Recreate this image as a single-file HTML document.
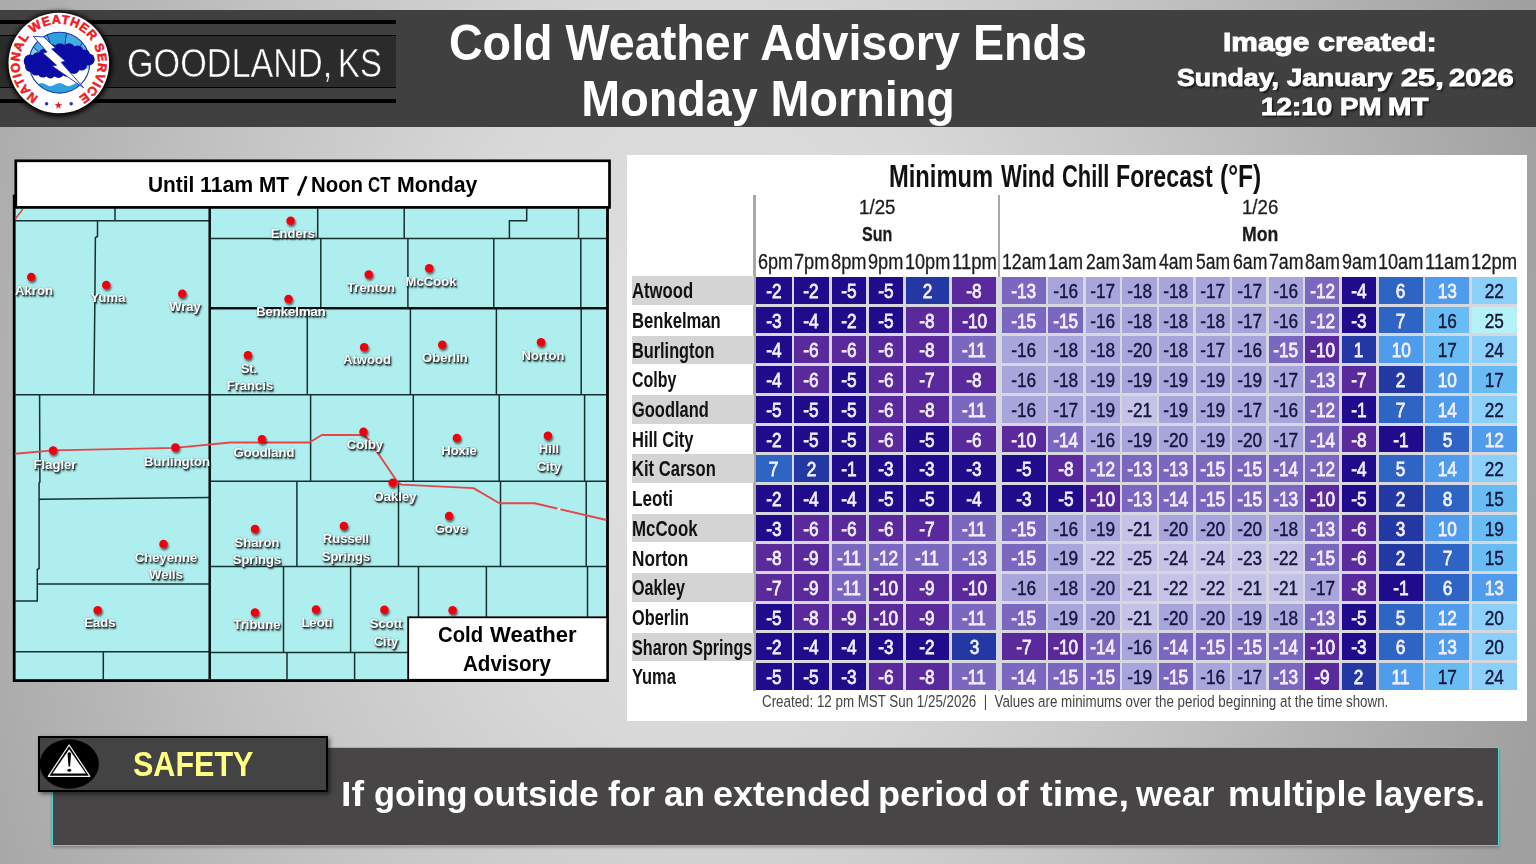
<!DOCTYPE html><html><head><meta charset="utf-8"><title>Cold Weather Advisory</title><style>
*{margin:0;padding:0;box-sizing:border-box}
html,body{width:1536px;height:864px;overflow:hidden}
body{position:relative;font-family:"Liberation Sans",sans-serif;background:#bdbdbd}
.abs{position:absolute}
#bg{position:absolute;left:0;top:0;width:1536px;height:864px;
 background:radial-gradient(ellipse 56% 140% at 46% 45%, #e2e2e2 0%, #d8d8d8 30%, #c2c2c2 60%, #a0a0a0 100%)}
.fw{position:absolute;white-space:nowrap;transform-origin:left center;font-weight:bold;line-height:1.2}
.fwr{font-weight:normal}
.bt{color:#fff}
.icw{color:#fff;-webkit-text-stroke:0.9px #fff;text-shadow:1.5px 1.5px 2px rgba(0,0,0,.75)}
.mtw{color:#000}
.ttw{color:#111}
.rlw{color:#111}
.hw{color:#1c1c1c;-webkit-text-stroke:0.3px #1c1c1c}
.lgw{color:#000}
.gdw{color:#fff;-webkit-text-stroke:0.55px #2b2b2b}
#hdr{position:absolute;left:0;top:10px;width:1536px;height:116.7px;background:#404040}
.bl{position:absolute;left:0;width:396.3px;background:#000}
#plate{position:absolute;left:0;top:35px;width:396.3px;height:52.5px;background:#2b2b2b}
#gld{position:absolute;left:126.6px;top:40.6px;height:44px;line-height:44px;font-size:40px;color:#fff;white-space:nowrap;
 transform-origin:left center;transform:scaleX(0.8387);letter-spacing:0;-webkit-text-stroke:0.55px #2b2b2b}
#title{position:absolute;left:368px;top:15.5px;width:800px;text-align:center;color:#fff;font-weight:bold;font-size:46.7px;line-height:53.0px;white-space:nowrap;transform-origin:center top;transform:scaleY(1.05)}
.ic{position:absolute;left:1129px;width:400px;text-align:center;color:#fff;font-weight:bold;font-size:24px;line-height:28px;white-space:nowrap;
 -webkit-text-stroke:0.9px #fff;text-shadow:1.5px 1.5px 2px rgba(0,0,0,.75)}
.ic span{display:inline-block;transform-origin:center}
#mt{position:absolute;left:12px;top:172px;width:600px;text-align:center;font-weight:bold;font-size:20.4px;line-height:26px;color:#000;white-space:nowrap}
#mt span{display:inline-block;transform:scale(1.02,1.045)}
.ml{position:absolute;width:100px;height:18px;line-height:18px;text-align:center;color:#fff;font-weight:bold;font-size:12.5px;white-space:nowrap;transform:scaleX(1.045);
 text-shadow:1.2px 1.6px 1.8px rgba(30,40,40,.95),0.6px 0.9px 0.9px rgba(30,40,40,.85),0 0 2px rgba(30,40,40,.35)}
#lgd{position:absolute;left:408px;top:620px;width:199px;text-align:center;font-weight:bold;font-size:21.5px;line-height:28.6px;color:#000}
#panel{position:absolute;left:627px;top:154.6px;width:899.6px;height:566px;background:#fff}
#psh{position:absolute;left:630px;top:158px;width:901px;height:567px;background:#000;opacity:.35;filter:blur(3px)}
#tt{position:absolute;left:627px;top:159.2px;width:900px;height:34px;line-height:34px;text-align:center;font-weight:bold;font-size:28.6px;color:#111;white-space:nowrap;-webkit-text-stroke:0.35px #fff}
#tt span{display:inline-block;transform:scaleX(0.817);position:relative;left:-3px}
.vl{position:absolute;width:2.2px;background:#a8a8a8;top:194.5px;height:496.5px}
.dh{position:absolute;width:80px;text-align:center;font-size:18.4px;line-height:22px;color:#222;white-space:nowrap}
.dh span{display:inline-block;transform:scaleX(1.0)}
.hh{position:absolute;top:251.5px;width:60px;height:22px;line-height:22px;text-align:center;font-size:18.9px;color:#1c1c1c;white-space:nowrap}
.hh span{display:inline-block;transform:scaleX(0.96)}
.gridbg{position:absolute;background:#d7d7e0}
.band{position:absolute;left:631.6px;width:122px;height:28.7px;background:#d4d4d4}
.rl{position:absolute;left:632.6px;width:240px;height:30px;line-height:30px;font-weight:bold;font-size:21.5px;color:#111;white-space:nowrap}
.rl span{display:inline-block;transform-origin:left center;transform:scaleX(0.765)}
.c{position:absolute;height:26.8px;line-height:28.6px;text-align:center;font-size:20.3px;white-space:nowrap}
.c span{display:inline-block;transform:scaleX(0.85)}
.c.w{color:#f4efff;-webkit-text-stroke:0.8px #f4efff}
.c.d{color:#14143a;-webkit-text-stroke:0.4px #14143a}
#ft{position:absolute;left:762.3px;top:692.8px;height:18px;line-height:18px;font-size:16.7px;color:#444;white-space:nowrap}
#ft span{display:inline-block;transform-origin:left center;transform:scaleX(0.80)}
#bar{position:absolute;left:51.8px;top:747.4px;width:1447.5px;height:99px;background:#474545;border:1.8px solid #4ad6d4;box-shadow:0 1.5px 3px rgba(0,0,0,.28)}
#bart{position:absolute;left:340.2px;top:772px;height:44px;line-height:44px;font-weight:bold;font-size:34.3px;color:#fff;white-space:nowrap}
#bart span{display:inline-block;transform-origin:left center;transform:scale(1.03,1.02)}
#sf{position:absolute;left:37.6px;top:736.2px;width:290.8px;height:55.4px;background:#434343;border:2.5px solid #000;box-shadow:2px 2px 4px rgba(0,0,0,.5)}
#sft{position:absolute;left:133.3px;top:741px;height:44px;line-height:44px;font-weight:bold;font-size:34px;color:#ffff84;white-space:nowrap}
#sft span{display:inline-block;transform-origin:left center;transform:scale(0.898,1.055)}
</style></head><body>
<div id="bg"></div>
<div id="hdr"></div>
<div id="plate"></div>
<div class="bl" style="top:20.0px;height:3.6px"></div>
<div class="bl" style="top:34.5px;height:1.6px"></div>
<div class="bl" style="top:86.7px;height:1.6px"></div>
<div class="bl" style="top:99.0px;height:3.6px"></div>
<span class="fw gdw fwr" style="left:127.19px;top:38.80px;font-size:40px;transform:scaleX(0.8546);">GOODLAND,</span>
<span class="fw gdw fwr" style="left:338.47px;top:38.80px;font-size:40px;transform:scaleX(0.8216);">KS</span>
<svg class="abs" style="left:0;top:0" width="240" height="135" viewBox="0 0 240 135">
<defs><filter id="lg" x="-30%" y="-30%" width="160%" height="160%"><feGaussianBlur stdDeviation="2.4"/></filter>
<path id="tp" d="M38.56,96.69 A39.3,39.3 0 1 1 79.04,96.69"/>
<clipPath id="ic"><circle cx="59.4" cy="62.7" r="30.4"/></clipPath></defs>
<circle cx="59.3" cy="64.0" r="52.5" fill="#000" filter="url(#lg)"/>
<circle cx="58.8" cy="63.0" r="50.3" fill="#fff"/>
<text font-family="Liberation Sans, sans-serif" font-weight="bold" font-size="12.5" fill="#ee1c25" stroke="#ee1c25" stroke-width="0.55" textLength="204.4" lengthAdjust="spacing"><textPath href="#tp" textLength="204.4" lengthAdjust="spacing">NATIONAL WEATHER SERVICE</textPath></text>
<g clip-path="url(#ic)">
<rect x="20" y="25" width="80" height="80" fill="#2f9fdd"/>
<path d="M60.9,72.7 L0.9,72.7 L17.0,31.8 Z" fill="#86cdf2"/>
<path d="M60.9,72.7 L17.0,31.8 L40.4,16.3 Z" fill="#46ace4"/>
<path d="M60.9,72.7 L40.4,16.3 L69.3,13.3 Z" fill="#2f9fdd"/>
<path d="M60.9,72.7 L69.3,13.3 L96.2,24.2 Z" fill="#46ace4"/>
<path d="M60.9,72.7 L96.2,24.2 L113.9,44.5 Z" fill="#5bb8ea"/>
<path d="M60.9,72.7 L113.9,44.5 L120.7,77.9 Z" fill="#86cdf2"/>
<line x1="60.9" y1="72.7" x2="17.0" y2="31.8" stroke="#123f9e" stroke-width="1.0"/>
<line x1="60.9" y1="72.7" x2="40.4" y2="16.3" stroke="#123f9e" stroke-width="1.0"/>
<line x1="60.9" y1="72.7" x2="69.3" y2="13.3" stroke="#123f9e" stroke-width="1.0"/>
<line x1="60.9" y1="72.7" x2="96.2" y2="24.2" stroke="#123f9e" stroke-width="1.0"/>
<line x1="60.9" y1="72.7" x2="113.9" y2="44.5" stroke="#123f9e" stroke-width="1.0"/>
<path d="M20,68.7 H100 V84.6 q-4.5,-3.2 -9,0 q-4.5,3.2 -9,0 q-4.5,-3.2 -9,0 q-4.5,3.2 -9,0 q-4.5,-3.2 -9,0 q-4.5,3.2 -9,0 q-4.5,-3.2 -9,0 q-4.5,3.2 -9,0 q-4.5,-3.2 -9,0 Z" fill="#fff"/>
</g>
<circle cx="59.4" cy="62.7" r="30.4" fill="none" stroke="#1a3cae" stroke-width="1.1"/>
<circle cx="30.3" cy="61" r="6.6" fill="#0c0ca4"/>
<circle cx="30.5" cy="66.5" r="5.4" fill="#0c0ca4"/>
<circle cx="36" cy="70" r="5.6" fill="#0c0ca4"/>
<circle cx="43" cy="72" r="5.6" fill="#0c0ca4"/>
<circle cx="50.5" cy="73" r="5.4" fill="#0c0ca4"/>
<circle cx="58.5" cy="72.5" r="5.4" fill="#0c0ca4"/>
<circle cx="66.5" cy="71.3" r="5.4" fill="#0c0ca4"/>
<circle cx="74" cy="68.5" r="5.4" fill="#0c0ca4"/>
<circle cx="81.5" cy="65" r="5.6" fill="#0c0ca4"/>
<circle cx="88.6" cy="59.5" r="6.1" fill="#0c0ca4"/>
<circle cx="84.5" cy="55" r="5.5" fill="#0c0ca4"/>
<circle cx="77.5" cy="51.5" r="6" fill="#0c0ca4"/>
<circle cx="69" cy="49.3" r="6" fill="#0c0ca4"/>
<circle cx="60" cy="48.8" r="5.6" fill="#0c0ca4"/>
<circle cx="51.5" cy="49.8" r="5.8" fill="#0c0ca4"/>
<circle cx="44.5" cy="54" r="5.6" fill="#0c0ca4"/>
<circle cx="37.5" cy="57.5" r="5.2" fill="#0c0ca4"/>
<circle cx="45" cy="62.5" r="8.5" fill="#0c0ca4"/>
<circle cx="57" cy="61" r="10.5" fill="#0c0ca4"/>
<circle cx="69" cy="60.5" r="10" fill="#0c0ca4"/>
<circle cx="79" cy="60" r="7.2" fill="#0c0ca4"/>
<circle cx="37" cy="63.5" r="6.4" fill="#0c0ca4"/>
<path d="M33.3,36.3 L43.6,36.9 L55.4,47.9 L51.7,49.0 L65.3,61.2 L61.1,62.3 L83.6,87.8 L52.2,66.1 L56.5,65.2 L42.9,52.9 L47.1,52.0 Z" fill="#fff" stroke="#1a2fae" stroke-width="0.9" stroke-linejoin="miter"/>
<circle cx="46.6" cy="103.7" r="1.75" fill="#2a35b5"/><circle cx="71.2" cy="103.7" r="1.75" fill="#2a35b5"/>
<polygon points="58.40,101.50 59.34,104.11 62.11,104.19 59.92,105.89 60.69,108.56 58.40,107.00 56.11,108.56 56.88,105.89 54.69,104.19 57.46,104.11" fill="#ee1c25"/>
</svg>
<div id="title">Cold Weather Advisory Ends<br>Monday Morning</div>
<span class="fw icw" style="left:1222.96px;top:28.55px;font-size:24px;transform:scale(1.2455,1.04);text-shadow:none;">Image</span>
<span class="fw icw" style="left:1317.58px;top:28.55px;font-size:24px;transform:scale(1.2716,1.04);text-shadow:none;">created:</span>
<span class="fw icw" style="left:1177.30px;top:64.28px;font-size:24px;transform:scaleX(1.1145);">Sunday,</span>
<span class="fw icw" style="left:1287.29px;top:64.28px;font-size:24px;transform:scaleX(1.1446);">January</span>
<span class="fw icw" style="left:1400.92px;top:64.28px;font-size:24px;transform:scaleX(1.2808);">25,</span>
<span class="fw icw" style="left:1449.28px;top:64.28px;font-size:24px;transform:scaleX(1.2142);">2026</span>
<span class="fw icw" style="left:1261.43px;top:93.18px;font-size:24px;transform:scaleX(1.1592);">12:10</span>
<span class="fw icw" style="left:1340.40px;top:93.18px;font-size:24px;transform:scaleX(1.1508);">PM</span>
<span class="fw icw" style="left:1388.18px;top:93.18px;font-size:24px;transform:scaleX(1.1679);">MT</span>
<svg class="abs" style="left:0;top:0" width="1536" height="864" viewBox="0 0 1536 864">
<defs><filter id="ds" x="-50%" y="-50%" width="200%" height="200%"><feGaussianBlur in="SourceAlpha" stdDeviation="1.1"/><feOffset dx="1.3" dy="1.6"/><feComponentTransfer><feFuncA type="linear" slope="0.6"/></feComponentTransfer><feMerge><feMergeNode/><feMergeNode in="SourceGraphic"/></feMerge></filter>
<filter id="ms" x="-5%" y="-5%" width="110%" height="110%"><feGaussianBlur stdDeviation="2.5"/></filter></defs>
<rect x="14.2" y="196" width="593.3" height="484.6" fill="#afeeee" stroke="#000" stroke-width="2.8"/>
<path d="M15.0,220.8 L209.5,220.8 M115.0,208.0 L115.0,220.8 M97.5,220.8 L97.5,236.5 L95.4,237.5 L94.8,308.0 L93.8,394.8 M15.0,394.8 L606.5,394.8 M39.6,394.8 L39.9,482.0 L39.1,483.0 L39.1,568.5 L37.3,569.5 L37.3,601.0 L15.0,601.0 M39.2,499.3 L209.5,497.4 M37.3,584.0 L209.5,584.0 M15.0,651.8 L209.5,651.8 M103.3,651.8 L103.3,679.0 M209.7,238.5 L606.5,238.5 M317.7,208.0 L317.7,238.5 M404.2,208.0 L404.2,238.5 M578.5,208.0 L578.5,238.5 M526.7,208.0 L526.7,220.8 L509.4,220.8 L509.4,238.5 M320.8,238.5 L320.8,308.3 M407.9,238.5 L407.9,308.3 M493.8,238.5 L493.8,308.3 M580.8,238.5 L580.8,308.3 M307.3,308.3 L307.3,394.8 M410.4,308.3 L410.4,394.8 M496.4,308.3 L496.4,394.8 M581.2,308.3 L581.2,394.8 M310.6,394.8 L310.6,481.2 M413.3,394.8 L413.3,481.2 M499.2,394.8 L499.2,481.2 M584.6,394.8 L584.6,481.2 M209.7,481.2 L606.5,481.2 M296.9,481.2 L296.9,566.4 M398.5,481.2 L398.5,566.4 M500.5,481.2 L500.5,566.4 M586.2,481.2 L586.2,566.4 M209.7,566.4 L606.5,566.4 M283.5,566.4 L283.5,652.4 M350.6,566.4 L350.6,652.4 M418.5,566.4 L418.5,652.4 M486.4,566.4 L486.4,652.4 M587.5,566.4 L587.5,652.4 M209.7,652.4 L606.5,652.4 M287.0,652.4 L287.0,679.0 M354.6,652.4 L354.6,679.0" fill="none" stroke="#16302f" stroke-width="1.5"/>
<path d="M209.7,208 L209.7,679 M209.7,308.3 L606.5,308.3" fill="none" stroke="#08100f" stroke-width="2.5"/>
<path d="M15.0,453.8 L53.1,450.4 L175.0,447.9 L230.2,442.5 L309.4,442.5 L321.9,435.0 L363.5,435.0 L369.0,440.0 L397.5,482.0 L401.2,484.6 L473.5,488.1 L499.4,503.3 L534.6,503.3 L606.4,520.0" fill="none" stroke="#e4474a" stroke-width="1.9" stroke-linejoin="round"/>
<path d="M15.5,218.75 L22.9,209" fill="none" stroke="#e2433f" stroke-width="1.4"/>
<path d="M557.4,508.6 L560.4,509.3" fill="none" stroke="#d4f2f2" stroke-width="2.4"/>
<g filter="url(#ds)">
<circle cx="31.25" cy="277" r="4.25" fill="#ee0010"/>
<circle cx="106.25" cy="285" r="4.25" fill="#ee0010"/>
<circle cx="182.3" cy="293.75" r="4.25" fill="#ee0010"/>
<circle cx="290.6" cy="220.8" r="4.25" fill="#ee0010"/>
<circle cx="288.5" cy="299" r="4.25" fill="#ee0010"/>
<circle cx="368.75" cy="274.4" r="4.25" fill="#ee0010"/>
<circle cx="429.2" cy="268.3" r="4.25" fill="#ee0010"/>
<circle cx="247.9" cy="355.2" r="4.25" fill="#ee0010"/>
<circle cx="364.2" cy="347.3" r="4.25" fill="#ee0010"/>
<circle cx="442.3" cy="344.8" r="4.25" fill="#ee0010"/>
<circle cx="541" cy="342.3" r="4.25" fill="#ee0010"/>
<circle cx="53.1" cy="450.4" r="4.25" fill="#ee0010"/>
<circle cx="175.4" cy="447.5" r="4.25" fill="#ee0010"/>
<circle cx="262" cy="439.2" r="4.25" fill="#ee0010"/>
<circle cx="363.5" cy="431.7" r="4.25" fill="#ee0010"/>
<circle cx="456.9" cy="437.9" r="4.25" fill="#ee0010"/>
<circle cx="547.9" cy="435.8" r="4.25" fill="#ee0010"/>
<circle cx="392.7" cy="482.8" r="4.25" fill="#ee0010"/>
<circle cx="449.1" cy="516" r="4.25" fill="#ee0010"/>
<circle cx="163.5" cy="544" r="4.25" fill="#ee0010"/>
<circle cx="255" cy="529.1" r="4.25" fill="#ee0010"/>
<circle cx="343.9" cy="525.9" r="4.25" fill="#ee0010"/>
<circle cx="97.7" cy="610.3" r="4.25" fill="#ee0010"/>
<circle cx="255" cy="612.4" r="4.25" fill="#ee0010"/>
<circle cx="316" cy="609.5" r="4.25" fill="#ee0010"/>
<circle cx="384.4" cy="609.8" r="4.25" fill="#ee0010"/>
<circle cx="452.6" cy="610.3" r="4.25" fill="#ee0010"/>
</g>
<rect x="408.2" y="617.3" width="199" height="62.5" fill="#fff" stroke="#000" stroke-width="1.8"/>
<rect x="15.8" y="160.8" width="593.7" height="46.6" fill="#fff" stroke="#000" stroke-width="2.7"/>
<path d="M298.1,195.6 L306.3,176.2" stroke="#000" stroke-width="2.7" fill="none"/>
</svg>
<div class="ml" style="left:-16.2px;top:282.0px">Akron</div>
<div class="ml" style="left:58.3px;top:289.3px">Yuma</div>
<div class="ml" style="left:135.0px;top:298.3px">Wray</div>
<div class="ml" style="left:242.7px;top:225.4px">Enders</div>
<div class="ml" style="left:240.7px;top:303.1px">Benkelman</div>
<div class="ml" style="left:321.4px;top:278.5px">Trenton</div>
<div class="ml" style="left:380.7px;top:272.7px">McCook</div>
<div class="ml" style="left:199.4px;top:359.8px">St.</div>
<div class="ml" style="left:200.0px;top:376.8px">Francis</div>
<div class="ml" style="left:316.7px;top:351.4px">Atwood</div>
<div class="ml" style="left:394.8px;top:348.9px">Oberlin</div>
<div class="ml" style="left:492.7px;top:346.6px">Norton</div>
<div class="ml" style="left:5.2px;top:455.6px">Flagler</div>
<div class="ml" style="left:127.0px;top:452.5px">Burlington</div>
<div class="ml" style="left:213.5px;top:443.5px">Goodland</div>
<div class="ml" style="left:315.2px;top:435.8px">Colby</div>
<div class="ml" style="left:408.8px;top:442.0px">Hoxie</div>
<div class="ml" style="left:499.4px;top:440.0px">Hill</div>
<div class="ml" style="left:499.4px;top:457.7px">City</div>
<div class="ml" style="left:344.5px;top:487.6px">Oakley</div>
<div class="ml" style="left:401.2px;top:520.4px">Gove</div>
<div class="ml" style="left:115.6px;top:548.9px">Cheyenne</div>
<div class="ml" style="left:115.6px;top:565.6px">Wells</div>
<div class="ml" style="left:207.0px;top:533.7px">Sharon</div>
<div class="ml" style="left:207.0px;top:551.0px">Springs</div>
<div class="ml" style="left:295.8px;top:530.2px">Russell</div>
<div class="ml" style="left:295.8px;top:547.5px">Springs</div>
<div class="ml" style="left:49.8px;top:614.0px">Eads</div>
<div class="ml" style="left:207.0px;top:616.2px">Tribune</div>
<div class="ml" style="left:267.3px;top:614.0px">Leoti</div>
<div class="ml" style="left:335.7px;top:614.9px">Scott</div>
<div class="ml" style="left:335.7px;top:632.7px">City</div>
<span class="fw mtw" style="left:147.85px;top:172.97px;font-size:20.4px;transform:scale(1.0248,1.045);">Until</span>
<span class="fw mtw" style="left:200.22px;top:172.97px;font-size:20.4px;transform:scale(1.0441,1.045);">11am</span>
<span class="fw mtw" style="left:259.45px;top:172.97px;font-size:20.4px;transform:scale(1.0162,1.045);">MT</span>
<span class="fw mtw" style="left:311.38px;top:172.97px;font-size:20.4px;transform:scale(0.9985,1.045);">Noon</span>
<span class="fw mtw" style="left:368.32px;top:172.97px;font-size:20.4px;transform:scale(0.8272,1.045);">CT</span>
<span class="fw mtw" style="left:396.52px;top:172.97px;font-size:20.4px;transform:scale(1.0439,1.045);">Monday</span>
<span class="fw lgw" style="left:438.19px;top:622.70px;font-size:21.5px;transform:scale(0.9434,1.034);">Cold</span>
<span class="fw lgw" style="left:489.50px;top:622.70px;font-size:21.5px;transform:scale(1.0265,1.034);">Weather</span>
<span class="fw lgw" style="left:463.19px;top:651.80px;font-size:21.5px;transform:scale(0.9565,1.034);">Advisory</span>
<div id="panel"></div>
<span class="fw ttw" style="left:888.96px;top:158.26px;font-size:31.1px;transform:scaleX(0.7630);">Minimum</span>
<span class="fw ttw" style="left:1000.70px;top:158.26px;font-size:31.1px;transform:scaleX(0.7123);">Wind</span>
<span class="fw ttw" style="left:1061.92px;top:158.26px;font-size:31.1px;transform:scaleX(0.7040);">Chill</span>
<span class="fw ttw" style="left:1115.99px;top:158.26px;font-size:31.1px;transform:scaleX(0.7461);">Forecast</span>
<span class="fw ttw" style="left:1220.27px;top:158.26px;font-size:31.1px;transform:scaleX(0.7896);">(°F)</span>
<div class="vl" style="left:753.4px"></div><div class="vl" style="left:998.3px"></div>
<span class="fw hw fwr" style="left:858.89px;top:194.67px;font-size:20.0px;transform:scaleX(0.9372);">1/25</span>
<span class="fw hw fwr" style="left:1242.10px;top:194.67px;font-size:20.0px;transform:scaleX(0.9317);">1/26</span>
<span class="fw hw" style="left:861.92px;top:221.71px;font-size:20.8px;transform:scaleX(0.7719);">Sun</span>
<span class="fw hw" style="left:1242.35px;top:221.71px;font-size:20.8px;transform:scaleX(0.8494);">Mon</span>
<div class="gridbg" style="left:755.9px;top:277.0px;width:760.7px;height:412.9px"></div>
<div class="band" style="top:276.1px"></div>
<span class="fw rlw" style="left:632.28px;top:279.25px;font-size:21.5px;transform:scaleX(0.7754);">Atwood</span>
<div class="c w" style="left:755.9px;top:277.0px;width:35.7px;background:#1f0b8c"><span>-2</span></div>
<div class="c w" style="left:794.3px;top:277.0px;width:34.4px;background:#1f0b8c"><span>-2</span></div>
<div class="c w" style="left:831.6px;top:277.0px;width:34.3px;background:#1f0b8c"><span>-5</span></div>
<div class="c w" style="left:868.5px;top:277.0px;width:34.7px;background:#1f0b8c"><span>-5</span></div>
<div class="c w" style="left:905.7px;top:277.0px;width:43.2px;background:#2438a4"><span>2</span></div>
<div class="c w" style="left:952.3px;top:277.0px;width:44.0px;background:#5a2a9c"><span>-8</span></div>
<div class="c w" style="left:1001.5px;top:277.0px;width:44.4px;background:#7a68c0"><span>-13</span></div>
<div class="c d" style="left:1048.4px;top:277.0px;width:34.7px;background:#a8a4dc"><span>-16</span></div>
<div class="c d" style="left:1085.6px;top:277.0px;width:34.4px;background:#a8a4dc"><span>-17</span></div>
<div class="c d" style="left:1122.4px;top:277.0px;width:34.3px;background:#a8a4dc"><span>-18</span></div>
<div class="c d" style="left:1158.9px;top:277.0px;width:34.2px;background:#a8a4dc"><span>-18</span></div>
<div class="c d" style="left:1195.7px;top:277.0px;width:34.3px;background:#a8a4dc"><span>-17</span></div>
<div class="c d" style="left:1232.3px;top:277.0px;width:34.0px;background:#a8a4dc"><span>-17</span></div>
<div class="c d" style="left:1268.8px;top:277.0px;width:33.9px;background:#a8a4dc"><span>-16</span></div>
<div class="c w" style="left:1305.4px;top:277.0px;width:33.9px;background:#7a68c0"><span>-12</span></div>
<div class="c w" style="left:1341.8px;top:277.0px;width:34.5px;background:#1f0b8c"><span>-4</span></div>
<div class="c w" style="left:1379.0px;top:277.0px;width:43.6px;background:#2e64c4"><span>6</span></div>
<div class="c w" style="left:1425.3px;top:277.0px;width:44.2px;background:#4f9cec"><span>13</span></div>
<div class="c d" style="left:1472.0px;top:277.0px;width:44.6px;background:#8ad0f8"><span>22</span></div>
<span class="fw rlw" style="left:631.62px;top:308.95px;font-size:21.5px;transform:scaleX(0.7731);">Benkelman</span>
<div class="c w" style="left:755.9px;top:306.7px;width:35.7px;background:#1f0b8c"><span>-3</span></div>
<div class="c w" style="left:794.3px;top:306.7px;width:34.4px;background:#1f0b8c"><span>-4</span></div>
<div class="c w" style="left:831.6px;top:306.7px;width:34.3px;background:#1f0b8c"><span>-2</span></div>
<div class="c w" style="left:868.5px;top:306.7px;width:34.7px;background:#1f0b8c"><span>-5</span></div>
<div class="c w" style="left:905.7px;top:306.7px;width:43.2px;background:#5a2a9c"><span>-8</span></div>
<div class="c w" style="left:952.3px;top:306.7px;width:44.0px;background:#5a2a9c"><span>-10</span></div>
<div class="c w" style="left:1001.5px;top:306.7px;width:44.4px;background:#7a68c0"><span>-15</span></div>
<div class="c w" style="left:1048.4px;top:306.7px;width:34.7px;background:#7a68c0"><span>-15</span></div>
<div class="c d" style="left:1085.6px;top:306.7px;width:34.4px;background:#a8a4dc"><span>-16</span></div>
<div class="c d" style="left:1122.4px;top:306.7px;width:34.3px;background:#a8a4dc"><span>-18</span></div>
<div class="c d" style="left:1158.9px;top:306.7px;width:34.2px;background:#a8a4dc"><span>-18</span></div>
<div class="c d" style="left:1195.7px;top:306.7px;width:34.3px;background:#a8a4dc"><span>-18</span></div>
<div class="c d" style="left:1232.3px;top:306.7px;width:34.0px;background:#a8a4dc"><span>-17</span></div>
<div class="c d" style="left:1268.8px;top:306.7px;width:33.9px;background:#a8a4dc"><span>-16</span></div>
<div class="c w" style="left:1305.4px;top:306.7px;width:33.9px;background:#7a68c0"><span>-12</span></div>
<div class="c w" style="left:1341.8px;top:306.7px;width:34.5px;background:#1f0b8c"><span>-3</span></div>
<div class="c w" style="left:1379.0px;top:306.7px;width:43.6px;background:#2e64c4"><span>7</span></div>
<div class="c d" style="left:1425.3px;top:306.7px;width:44.2px;background:#68bcf4"><span>16</span></div>
<div class="c d" style="left:1472.0px;top:306.7px;width:44.6px;background:#b3f3f8"><span>25</span></div>
<div class="band" style="top:335.5px"></div>
<span class="fw rlw" style="left:631.64px;top:338.65px;font-size:21.5px;transform:scaleX(0.7585);">Burlington</span>
<div class="c w" style="left:755.9px;top:336.4px;width:35.7px;background:#1f0b8c"><span>-4</span></div>
<div class="c w" style="left:794.3px;top:336.4px;width:34.4px;background:#5a2a9c"><span>-6</span></div>
<div class="c w" style="left:831.6px;top:336.4px;width:34.3px;background:#5a2a9c"><span>-6</span></div>
<div class="c w" style="left:868.5px;top:336.4px;width:34.7px;background:#5a2a9c"><span>-6</span></div>
<div class="c w" style="left:905.7px;top:336.4px;width:43.2px;background:#5a2a9c"><span>-8</span></div>
<div class="c w" style="left:952.3px;top:336.4px;width:44.0px;background:#7a68c0"><span>-11</span></div>
<div class="c d" style="left:1001.5px;top:336.4px;width:44.4px;background:#a8a4dc"><span>-16</span></div>
<div class="c d" style="left:1048.4px;top:336.4px;width:34.7px;background:#a8a4dc"><span>-18</span></div>
<div class="c d" style="left:1085.6px;top:336.4px;width:34.4px;background:#a8a4dc"><span>-18</span></div>
<div class="c d" style="left:1122.4px;top:336.4px;width:34.3px;background:#a8a4dc"><span>-20</span></div>
<div class="c d" style="left:1158.9px;top:336.4px;width:34.2px;background:#a8a4dc"><span>-18</span></div>
<div class="c d" style="left:1195.7px;top:336.4px;width:34.3px;background:#a8a4dc"><span>-17</span></div>
<div class="c d" style="left:1232.3px;top:336.4px;width:34.0px;background:#a8a4dc"><span>-16</span></div>
<div class="c w" style="left:1268.8px;top:336.4px;width:33.9px;background:#7a68c0"><span>-15</span></div>
<div class="c w" style="left:1305.4px;top:336.4px;width:33.9px;background:#5a2a9c"><span>-10</span></div>
<div class="c w" style="left:1341.8px;top:336.4px;width:34.5px;background:#2438a4"><span>1</span></div>
<div class="c w" style="left:1379.0px;top:336.4px;width:43.6px;background:#4f9cec"><span>10</span></div>
<div class="c d" style="left:1425.3px;top:336.4px;width:44.2px;background:#68bcf4"><span>17</span></div>
<div class="c d" style="left:1472.0px;top:336.4px;width:44.6px;background:#8ad0f8"><span>24</span></div>
<span class="fw rlw" style="left:632.06px;top:368.35px;font-size:21.5px;transform:scaleX(0.7428);">Colby</span>
<div class="c w" style="left:755.9px;top:366.1px;width:35.7px;background:#1f0b8c"><span>-4</span></div>
<div class="c w" style="left:794.3px;top:366.1px;width:34.4px;background:#5a2a9c"><span>-6</span></div>
<div class="c w" style="left:831.6px;top:366.1px;width:34.3px;background:#1f0b8c"><span>-5</span></div>
<div class="c w" style="left:868.5px;top:366.1px;width:34.7px;background:#5a2a9c"><span>-6</span></div>
<div class="c w" style="left:905.7px;top:366.1px;width:43.2px;background:#5a2a9c"><span>-7</span></div>
<div class="c w" style="left:952.3px;top:366.1px;width:44.0px;background:#5a2a9c"><span>-8</span></div>
<div class="c d" style="left:1001.5px;top:366.1px;width:44.4px;background:#a8a4dc"><span>-16</span></div>
<div class="c d" style="left:1048.4px;top:366.1px;width:34.7px;background:#a8a4dc"><span>-18</span></div>
<div class="c d" style="left:1085.6px;top:366.1px;width:34.4px;background:#a8a4dc"><span>-19</span></div>
<div class="c d" style="left:1122.4px;top:366.1px;width:34.3px;background:#a8a4dc"><span>-19</span></div>
<div class="c d" style="left:1158.9px;top:366.1px;width:34.2px;background:#a8a4dc"><span>-19</span></div>
<div class="c d" style="left:1195.7px;top:366.1px;width:34.3px;background:#a8a4dc"><span>-19</span></div>
<div class="c d" style="left:1232.3px;top:366.1px;width:34.0px;background:#a8a4dc"><span>-19</span></div>
<div class="c d" style="left:1268.8px;top:366.1px;width:33.9px;background:#a8a4dc"><span>-17</span></div>
<div class="c w" style="left:1305.4px;top:366.1px;width:33.9px;background:#7a68c0"><span>-13</span></div>
<div class="c w" style="left:1341.8px;top:366.1px;width:34.5px;background:#5a2a9c"><span>-7</span></div>
<div class="c w" style="left:1379.0px;top:366.1px;width:43.6px;background:#2438a4"><span>2</span></div>
<div class="c w" style="left:1425.3px;top:366.1px;width:44.2px;background:#4f9cec"><span>10</span></div>
<div class="c d" style="left:1472.0px;top:366.1px;width:44.6px;background:#68bcf4"><span>17</span></div>
<div class="band" style="top:394.9px"></div>
<span class="fw rlw" style="left:632.04px;top:398.05px;font-size:21.5px;transform:scaleX(0.7650);">Goodland</span>
<div class="c w" style="left:755.9px;top:395.8px;width:35.7px;background:#1f0b8c"><span>-5</span></div>
<div class="c w" style="left:794.3px;top:395.8px;width:34.4px;background:#1f0b8c"><span>-5</span></div>
<div class="c w" style="left:831.6px;top:395.8px;width:34.3px;background:#1f0b8c"><span>-5</span></div>
<div class="c w" style="left:868.5px;top:395.8px;width:34.7px;background:#5a2a9c"><span>-6</span></div>
<div class="c w" style="left:905.7px;top:395.8px;width:43.2px;background:#5a2a9c"><span>-8</span></div>
<div class="c w" style="left:952.3px;top:395.8px;width:44.0px;background:#7a68c0"><span>-11</span></div>
<div class="c d" style="left:1001.5px;top:395.8px;width:44.4px;background:#a8a4dc"><span>-16</span></div>
<div class="c d" style="left:1048.4px;top:395.8px;width:34.7px;background:#a8a4dc"><span>-17</span></div>
<div class="c d" style="left:1085.6px;top:395.8px;width:34.4px;background:#a8a4dc"><span>-19</span></div>
<div class="c d" style="left:1122.4px;top:395.8px;width:34.3px;background:#c4c2e6"><span>-21</span></div>
<div class="c d" style="left:1158.9px;top:395.8px;width:34.2px;background:#a8a4dc"><span>-19</span></div>
<div class="c d" style="left:1195.7px;top:395.8px;width:34.3px;background:#a8a4dc"><span>-19</span></div>
<div class="c d" style="left:1232.3px;top:395.8px;width:34.0px;background:#a8a4dc"><span>-17</span></div>
<div class="c d" style="left:1268.8px;top:395.8px;width:33.9px;background:#a8a4dc"><span>-16</span></div>
<div class="c w" style="left:1305.4px;top:395.8px;width:33.9px;background:#7a68c0"><span>-12</span></div>
<div class="c w" style="left:1341.8px;top:395.8px;width:34.5px;background:#1f0b8c"><span>-1</span></div>
<div class="c w" style="left:1379.0px;top:395.8px;width:43.6px;background:#2e64c4"><span>7</span></div>
<div class="c w" style="left:1425.3px;top:395.8px;width:44.2px;background:#4f9cec"><span>14</span></div>
<div class="c d" style="left:1472.0px;top:395.8px;width:44.6px;background:#8ad0f8"><span>22</span></div>
<span class="fw rlw" style="left:631.63px;top:427.75px;font-size:21.5px;transform:scaleX(0.7684);">Hill City</span>
<div class="c w" style="left:755.9px;top:425.5px;width:35.7px;background:#1f0b8c"><span>-2</span></div>
<div class="c w" style="left:794.3px;top:425.5px;width:34.4px;background:#1f0b8c"><span>-5</span></div>
<div class="c w" style="left:831.6px;top:425.5px;width:34.3px;background:#1f0b8c"><span>-5</span></div>
<div class="c w" style="left:868.5px;top:425.5px;width:34.7px;background:#5a2a9c"><span>-6</span></div>
<div class="c w" style="left:905.7px;top:425.5px;width:43.2px;background:#1f0b8c"><span>-5</span></div>
<div class="c w" style="left:952.3px;top:425.5px;width:44.0px;background:#5a2a9c"><span>-6</span></div>
<div class="c w" style="left:1001.5px;top:425.5px;width:44.4px;background:#5a2a9c"><span>-10</span></div>
<div class="c w" style="left:1048.4px;top:425.5px;width:34.7px;background:#7a68c0"><span>-14</span></div>
<div class="c d" style="left:1085.6px;top:425.5px;width:34.4px;background:#a8a4dc"><span>-16</span></div>
<div class="c d" style="left:1122.4px;top:425.5px;width:34.3px;background:#a8a4dc"><span>-19</span></div>
<div class="c d" style="left:1158.9px;top:425.5px;width:34.2px;background:#a8a4dc"><span>-20</span></div>
<div class="c d" style="left:1195.7px;top:425.5px;width:34.3px;background:#a8a4dc"><span>-19</span></div>
<div class="c d" style="left:1232.3px;top:425.5px;width:34.0px;background:#a8a4dc"><span>-20</span></div>
<div class="c d" style="left:1268.8px;top:425.5px;width:33.9px;background:#a8a4dc"><span>-17</span></div>
<div class="c w" style="left:1305.4px;top:425.5px;width:33.9px;background:#7a68c0"><span>-14</span></div>
<div class="c w" style="left:1341.8px;top:425.5px;width:34.5px;background:#5a2a9c"><span>-8</span></div>
<div class="c w" style="left:1379.0px;top:425.5px;width:43.6px;background:#1f0b8c"><span>-1</span></div>
<div class="c w" style="left:1425.3px;top:425.5px;width:44.2px;background:#2e64c4"><span>5</span></div>
<div class="c w" style="left:1472.0px;top:425.5px;width:44.6px;background:#4f9cec"><span>12</span></div>
<div class="band" style="top:454.3px"></div>
<span class="fw rlw" style="left:631.62px;top:457.45px;font-size:21.5px;transform:scaleX(0.7708);">Kit Carson</span>
<div class="c w" style="left:755.9px;top:455.2px;width:35.7px;background:#2e64c4"><span>7</span></div>
<div class="c w" style="left:794.3px;top:455.2px;width:34.4px;background:#2438a4"><span>2</span></div>
<div class="c w" style="left:831.6px;top:455.2px;width:34.3px;background:#1f0b8c"><span>-1</span></div>
<div class="c w" style="left:868.5px;top:455.2px;width:34.7px;background:#1f0b8c"><span>-3</span></div>
<div class="c w" style="left:905.7px;top:455.2px;width:43.2px;background:#1f0b8c"><span>-3</span></div>
<div class="c w" style="left:952.3px;top:455.2px;width:44.0px;background:#1f0b8c"><span>-3</span></div>
<div class="c w" style="left:1001.5px;top:455.2px;width:44.4px;background:#1f0b8c"><span>-5</span></div>
<div class="c w" style="left:1048.4px;top:455.2px;width:34.7px;background:#5a2a9c"><span>-8</span></div>
<div class="c w" style="left:1085.6px;top:455.2px;width:34.4px;background:#7a68c0"><span>-12</span></div>
<div class="c w" style="left:1122.4px;top:455.2px;width:34.3px;background:#7a68c0"><span>-13</span></div>
<div class="c w" style="left:1158.9px;top:455.2px;width:34.2px;background:#7a68c0"><span>-13</span></div>
<div class="c w" style="left:1195.7px;top:455.2px;width:34.3px;background:#7a68c0"><span>-15</span></div>
<div class="c w" style="left:1232.3px;top:455.2px;width:34.0px;background:#7a68c0"><span>-15</span></div>
<div class="c w" style="left:1268.8px;top:455.2px;width:33.9px;background:#7a68c0"><span>-14</span></div>
<div class="c w" style="left:1305.4px;top:455.2px;width:33.9px;background:#7a68c0"><span>-12</span></div>
<div class="c w" style="left:1341.8px;top:455.2px;width:34.5px;background:#1f0b8c"><span>-4</span></div>
<div class="c w" style="left:1379.0px;top:455.2px;width:43.6px;background:#2e64c4"><span>5</span></div>
<div class="c w" style="left:1425.3px;top:455.2px;width:44.2px;background:#4f9cec"><span>14</span></div>
<div class="c d" style="left:1472.0px;top:455.2px;width:44.6px;background:#8ad0f8"><span>22</span></div>
<span class="fw rlw" style="left:631.58px;top:487.15px;font-size:21.5px;transform:scaleX(0.7982);">Leoti</span>
<div class="c w" style="left:755.9px;top:484.9px;width:35.7px;background:#1f0b8c"><span>-2</span></div>
<div class="c w" style="left:794.3px;top:484.9px;width:34.4px;background:#1f0b8c"><span>-4</span></div>
<div class="c w" style="left:831.6px;top:484.9px;width:34.3px;background:#1f0b8c"><span>-4</span></div>
<div class="c w" style="left:868.5px;top:484.9px;width:34.7px;background:#1f0b8c"><span>-5</span></div>
<div class="c w" style="left:905.7px;top:484.9px;width:43.2px;background:#1f0b8c"><span>-5</span></div>
<div class="c w" style="left:952.3px;top:484.9px;width:44.0px;background:#1f0b8c"><span>-4</span></div>
<div class="c w" style="left:1001.5px;top:484.9px;width:44.4px;background:#1f0b8c"><span>-3</span></div>
<div class="c w" style="left:1048.4px;top:484.9px;width:34.7px;background:#1f0b8c"><span>-5</span></div>
<div class="c w" style="left:1085.6px;top:484.9px;width:34.4px;background:#5a2a9c"><span>-10</span></div>
<div class="c w" style="left:1122.4px;top:484.9px;width:34.3px;background:#7a68c0"><span>-13</span></div>
<div class="c w" style="left:1158.9px;top:484.9px;width:34.2px;background:#7a68c0"><span>-14</span></div>
<div class="c w" style="left:1195.7px;top:484.9px;width:34.3px;background:#7a68c0"><span>-15</span></div>
<div class="c w" style="left:1232.3px;top:484.9px;width:34.0px;background:#7a68c0"><span>-15</span></div>
<div class="c w" style="left:1268.8px;top:484.9px;width:33.9px;background:#7a68c0"><span>-13</span></div>
<div class="c w" style="left:1305.4px;top:484.9px;width:33.9px;background:#5a2a9c"><span>-10</span></div>
<div class="c w" style="left:1341.8px;top:484.9px;width:34.5px;background:#1f0b8c"><span>-5</span></div>
<div class="c w" style="left:1379.0px;top:484.9px;width:43.6px;background:#2438a4"><span>2</span></div>
<div class="c w" style="left:1425.3px;top:484.9px;width:44.2px;background:#2e64c4"><span>8</span></div>
<div class="c d" style="left:1472.0px;top:484.9px;width:44.6px;background:#68bcf4"><span>15</span></div>
<div class="band" style="top:513.7px"></div>
<span class="fw rlw" style="left:631.60px;top:516.85px;font-size:21.5px;transform:scaleX(0.7843);">McCook</span>
<div class="c w" style="left:755.9px;top:514.6px;width:35.7px;background:#1f0b8c"><span>-3</span></div>
<div class="c w" style="left:794.3px;top:514.6px;width:34.4px;background:#5a2a9c"><span>-6</span></div>
<div class="c w" style="left:831.6px;top:514.6px;width:34.3px;background:#5a2a9c"><span>-6</span></div>
<div class="c w" style="left:868.5px;top:514.6px;width:34.7px;background:#5a2a9c"><span>-6</span></div>
<div class="c w" style="left:905.7px;top:514.6px;width:43.2px;background:#5a2a9c"><span>-7</span></div>
<div class="c w" style="left:952.3px;top:514.6px;width:44.0px;background:#7a68c0"><span>-11</span></div>
<div class="c w" style="left:1001.5px;top:514.6px;width:44.4px;background:#7a68c0"><span>-15</span></div>
<div class="c d" style="left:1048.4px;top:514.6px;width:34.7px;background:#a8a4dc"><span>-16</span></div>
<div class="c d" style="left:1085.6px;top:514.6px;width:34.4px;background:#a8a4dc"><span>-19</span></div>
<div class="c d" style="left:1122.4px;top:514.6px;width:34.3px;background:#c4c2e6"><span>-21</span></div>
<div class="c d" style="left:1158.9px;top:514.6px;width:34.2px;background:#a8a4dc"><span>-20</span></div>
<div class="c d" style="left:1195.7px;top:514.6px;width:34.3px;background:#a8a4dc"><span>-20</span></div>
<div class="c d" style="left:1232.3px;top:514.6px;width:34.0px;background:#a8a4dc"><span>-20</span></div>
<div class="c d" style="left:1268.8px;top:514.6px;width:33.9px;background:#a8a4dc"><span>-18</span></div>
<div class="c w" style="left:1305.4px;top:514.6px;width:33.9px;background:#7a68c0"><span>-13</span></div>
<div class="c w" style="left:1341.8px;top:514.6px;width:34.5px;background:#5a2a9c"><span>-6</span></div>
<div class="c w" style="left:1379.0px;top:514.6px;width:43.6px;background:#2438a4"><span>3</span></div>
<div class="c w" style="left:1425.3px;top:514.6px;width:44.2px;background:#4f9cec"><span>10</span></div>
<div class="c d" style="left:1472.0px;top:514.6px;width:44.6px;background:#68bcf4"><span>19</span></div>
<span class="fw rlw" style="left:631.58px;top:546.55px;font-size:21.5px;transform:scaleX(0.8003);">Norton</span>
<div class="c w" style="left:755.9px;top:544.3px;width:35.7px;background:#5a2a9c"><span>-8</span></div>
<div class="c w" style="left:794.3px;top:544.3px;width:34.4px;background:#5a2a9c"><span>-9</span></div>
<div class="c w" style="left:831.6px;top:544.3px;width:34.3px;background:#7a68c0"><span>-11</span></div>
<div class="c w" style="left:868.5px;top:544.3px;width:34.7px;background:#7a68c0"><span>-12</span></div>
<div class="c w" style="left:905.7px;top:544.3px;width:43.2px;background:#7a68c0"><span>-11</span></div>
<div class="c w" style="left:952.3px;top:544.3px;width:44.0px;background:#7a68c0"><span>-13</span></div>
<div class="c w" style="left:1001.5px;top:544.3px;width:44.4px;background:#7a68c0"><span>-15</span></div>
<div class="c d" style="left:1048.4px;top:544.3px;width:34.7px;background:#a8a4dc"><span>-19</span></div>
<div class="c d" style="left:1085.6px;top:544.3px;width:34.4px;background:#c4c2e6"><span>-22</span></div>
<div class="c d" style="left:1122.4px;top:544.3px;width:34.3px;background:#c4c2e6"><span>-25</span></div>
<div class="c d" style="left:1158.9px;top:544.3px;width:34.2px;background:#c4c2e6"><span>-24</span></div>
<div class="c d" style="left:1195.7px;top:544.3px;width:34.3px;background:#c4c2e6"><span>-24</span></div>
<div class="c d" style="left:1232.3px;top:544.3px;width:34.0px;background:#c4c2e6"><span>-23</span></div>
<div class="c d" style="left:1268.8px;top:544.3px;width:33.9px;background:#c4c2e6"><span>-22</span></div>
<div class="c w" style="left:1305.4px;top:544.3px;width:33.9px;background:#7a68c0"><span>-15</span></div>
<div class="c w" style="left:1341.8px;top:544.3px;width:34.5px;background:#5a2a9c"><span>-6</span></div>
<div class="c w" style="left:1379.0px;top:544.3px;width:43.6px;background:#2438a4"><span>2</span></div>
<div class="c w" style="left:1425.3px;top:544.3px;width:44.2px;background:#2e64c4"><span>7</span></div>
<div class="c d" style="left:1472.0px;top:544.3px;width:44.6px;background:#68bcf4"><span>15</span></div>
<div class="band" style="top:573.1px"></div>
<span class="fw rlw" style="left:632.05px;top:576.25px;font-size:21.5px;transform:scaleX(0.7505);">Oakley</span>
<div class="c w" style="left:755.9px;top:574.0px;width:35.7px;background:#5a2a9c"><span>-7</span></div>
<div class="c w" style="left:794.3px;top:574.0px;width:34.4px;background:#5a2a9c"><span>-9</span></div>
<div class="c w" style="left:831.6px;top:574.0px;width:34.3px;background:#7a68c0"><span>-11</span></div>
<div class="c w" style="left:868.5px;top:574.0px;width:34.7px;background:#5a2a9c"><span>-10</span></div>
<div class="c w" style="left:905.7px;top:574.0px;width:43.2px;background:#5a2a9c"><span>-9</span></div>
<div class="c w" style="left:952.3px;top:574.0px;width:44.0px;background:#5a2a9c"><span>-10</span></div>
<div class="c d" style="left:1001.5px;top:574.0px;width:44.4px;background:#a8a4dc"><span>-16</span></div>
<div class="c d" style="left:1048.4px;top:574.0px;width:34.7px;background:#a8a4dc"><span>-18</span></div>
<div class="c d" style="left:1085.6px;top:574.0px;width:34.4px;background:#a8a4dc"><span>-20</span></div>
<div class="c d" style="left:1122.4px;top:574.0px;width:34.3px;background:#c4c2e6"><span>-21</span></div>
<div class="c d" style="left:1158.9px;top:574.0px;width:34.2px;background:#c4c2e6"><span>-22</span></div>
<div class="c d" style="left:1195.7px;top:574.0px;width:34.3px;background:#c4c2e6"><span>-22</span></div>
<div class="c d" style="left:1232.3px;top:574.0px;width:34.0px;background:#c4c2e6"><span>-21</span></div>
<div class="c d" style="left:1268.8px;top:574.0px;width:33.9px;background:#c4c2e6"><span>-21</span></div>
<div class="c d" style="left:1305.4px;top:574.0px;width:33.9px;background:#a8a4dc"><span>-17</span></div>
<div class="c w" style="left:1341.8px;top:574.0px;width:34.5px;background:#5a2a9c"><span>-8</span></div>
<div class="c w" style="left:1379.0px;top:574.0px;width:43.6px;background:#1f0b8c"><span>-1</span></div>
<div class="c w" style="left:1425.3px;top:574.0px;width:44.2px;background:#2e64c4"><span>6</span></div>
<div class="c w" style="left:1472.0px;top:574.0px;width:44.6px;background:#4f9cec"><span>13</span></div>
<span class="fw rlw" style="left:632.05px;top:605.95px;font-size:21.5px;transform:scaleX(0.7579);">Oberlin</span>
<div class="c w" style="left:755.9px;top:603.7px;width:35.7px;background:#1f0b8c"><span>-5</span></div>
<div class="c w" style="left:794.3px;top:603.7px;width:34.4px;background:#5a2a9c"><span>-8</span></div>
<div class="c w" style="left:831.6px;top:603.7px;width:34.3px;background:#5a2a9c"><span>-9</span></div>
<div class="c w" style="left:868.5px;top:603.7px;width:34.7px;background:#5a2a9c"><span>-10</span></div>
<div class="c w" style="left:905.7px;top:603.7px;width:43.2px;background:#5a2a9c"><span>-9</span></div>
<div class="c w" style="left:952.3px;top:603.7px;width:44.0px;background:#7a68c0"><span>-11</span></div>
<div class="c w" style="left:1001.5px;top:603.7px;width:44.4px;background:#7a68c0"><span>-15</span></div>
<div class="c d" style="left:1048.4px;top:603.7px;width:34.7px;background:#a8a4dc"><span>-19</span></div>
<div class="c d" style="left:1085.6px;top:603.7px;width:34.4px;background:#a8a4dc"><span>-20</span></div>
<div class="c d" style="left:1122.4px;top:603.7px;width:34.3px;background:#c4c2e6"><span>-21</span></div>
<div class="c d" style="left:1158.9px;top:603.7px;width:34.2px;background:#a8a4dc"><span>-20</span></div>
<div class="c d" style="left:1195.7px;top:603.7px;width:34.3px;background:#a8a4dc"><span>-20</span></div>
<div class="c d" style="left:1232.3px;top:603.7px;width:34.0px;background:#a8a4dc"><span>-19</span></div>
<div class="c d" style="left:1268.8px;top:603.7px;width:33.9px;background:#a8a4dc"><span>-18</span></div>
<div class="c w" style="left:1305.4px;top:603.7px;width:33.9px;background:#7a68c0"><span>-13</span></div>
<div class="c w" style="left:1341.8px;top:603.7px;width:34.5px;background:#1f0b8c"><span>-5</span></div>
<div class="c w" style="left:1379.0px;top:603.7px;width:43.6px;background:#2e64c4"><span>5</span></div>
<div class="c w" style="left:1425.3px;top:603.7px;width:44.2px;background:#4f9cec"><span>12</span></div>
<div class="c d" style="left:1472.0px;top:603.7px;width:44.6px;background:#8ad0f8"><span>20</span></div>
<div class="band" style="top:632.5px"></div>
<span class="fw rlw" style="left:632.22px;top:635.65px;font-size:21.5px;transform:scaleX(0.7518);">Sharon Springs</span>
<div class="c w" style="left:755.9px;top:633.4px;width:35.7px;background:#1f0b8c"><span>-2</span></div>
<div class="c w" style="left:794.3px;top:633.4px;width:34.4px;background:#1f0b8c"><span>-4</span></div>
<div class="c w" style="left:831.6px;top:633.4px;width:34.3px;background:#1f0b8c"><span>-4</span></div>
<div class="c w" style="left:868.5px;top:633.4px;width:34.7px;background:#1f0b8c"><span>-3</span></div>
<div class="c w" style="left:905.7px;top:633.4px;width:43.2px;background:#1f0b8c"><span>-2</span></div>
<div class="c w" style="left:952.3px;top:633.4px;width:44.0px;background:#2438a4"><span>3</span></div>
<div class="c w" style="left:1001.5px;top:633.4px;width:44.4px;background:#5a2a9c"><span>-7</span></div>
<div class="c w" style="left:1048.4px;top:633.4px;width:34.7px;background:#5a2a9c"><span>-10</span></div>
<div class="c w" style="left:1085.6px;top:633.4px;width:34.4px;background:#7a68c0"><span>-14</span></div>
<div class="c d" style="left:1122.4px;top:633.4px;width:34.3px;background:#a8a4dc"><span>-16</span></div>
<div class="c w" style="left:1158.9px;top:633.4px;width:34.2px;background:#7a68c0"><span>-14</span></div>
<div class="c w" style="left:1195.7px;top:633.4px;width:34.3px;background:#7a68c0"><span>-15</span></div>
<div class="c w" style="left:1232.3px;top:633.4px;width:34.0px;background:#7a68c0"><span>-15</span></div>
<div class="c w" style="left:1268.8px;top:633.4px;width:33.9px;background:#7a68c0"><span>-14</span></div>
<div class="c w" style="left:1305.4px;top:633.4px;width:33.9px;background:#5a2a9c"><span>-10</span></div>
<div class="c w" style="left:1341.8px;top:633.4px;width:34.5px;background:#1f0b8c"><span>-3</span></div>
<div class="c w" style="left:1379.0px;top:633.4px;width:43.6px;background:#2e64c4"><span>6</span></div>
<div class="c w" style="left:1425.3px;top:633.4px;width:44.2px;background:#4f9cec"><span>13</span></div>
<div class="c d" style="left:1472.0px;top:633.4px;width:44.6px;background:#8ad0f8"><span>20</span></div>
<span class="fw rlw" style="left:632.37px;top:665.35px;font-size:21.5px;transform:scaleX(0.7638);">Yuma</span>
<div class="c w" style="left:755.9px;top:663.1px;width:35.7px;background:#1f0b8c"><span>-5</span></div>
<div class="c w" style="left:794.3px;top:663.1px;width:34.4px;background:#1f0b8c"><span>-5</span></div>
<div class="c w" style="left:831.6px;top:663.1px;width:34.3px;background:#1f0b8c"><span>-3</span></div>
<div class="c w" style="left:868.5px;top:663.1px;width:34.7px;background:#5a2a9c"><span>-6</span></div>
<div class="c w" style="left:905.7px;top:663.1px;width:43.2px;background:#5a2a9c"><span>-8</span></div>
<div class="c w" style="left:952.3px;top:663.1px;width:44.0px;background:#7a68c0"><span>-11</span></div>
<div class="c w" style="left:1001.5px;top:663.1px;width:44.4px;background:#7a68c0"><span>-14</span></div>
<div class="c w" style="left:1048.4px;top:663.1px;width:34.7px;background:#7a68c0"><span>-15</span></div>
<div class="c w" style="left:1085.6px;top:663.1px;width:34.4px;background:#7a68c0"><span>-15</span></div>
<div class="c d" style="left:1122.4px;top:663.1px;width:34.3px;background:#a8a4dc"><span>-19</span></div>
<div class="c w" style="left:1158.9px;top:663.1px;width:34.2px;background:#7a68c0"><span>-15</span></div>
<div class="c d" style="left:1195.7px;top:663.1px;width:34.3px;background:#a8a4dc"><span>-16</span></div>
<div class="c d" style="left:1232.3px;top:663.1px;width:34.0px;background:#a8a4dc"><span>-17</span></div>
<div class="c w" style="left:1268.8px;top:663.1px;width:33.9px;background:#7a68c0"><span>-13</span></div>
<div class="c w" style="left:1305.4px;top:663.1px;width:33.9px;background:#5a2a9c"><span>-9</span></div>
<div class="c w" style="left:1341.8px;top:663.1px;width:34.5px;background:#2438a4"><span>2</span></div>
<div class="c w" style="left:1379.0px;top:663.1px;width:43.6px;background:#4f9cec"><span>11</span></div>
<div class="c d" style="left:1425.3px;top:663.1px;width:44.2px;background:#68bcf4"><span>17</span></div>
<div class="c d" style="left:1472.0px;top:663.1px;width:44.6px;background:#8ad0f8"><span>24</span></div>
<span class="fw hw fwr" style="left:757.60px;top:249.46px;font-size:21.6px;transform:scaleX(0.8349);">6pm</span>
<span class="fw hw fwr" style="left:794.49px;top:249.46px;font-size:21.6px;transform:scaleX(0.8424);">7pm</span>
<span class="fw hw fwr" style="left:831.28px;top:249.46px;font-size:21.6px;transform:scaleX(0.8452);">8pm</span>
<span class="fw hw fwr" style="left:868.18px;top:249.46px;font-size:21.6px;transform:scaleX(0.8401);">9pm</span>
<span class="fw hw fwr" style="left:905.24px;top:249.46px;font-size:21.6px;transform:scaleX(0.8378);">10pm</span>
<span class="fw hw fwr" style="left:951.71px;top:249.46px;font-size:21.6px;transform:scaleX(0.8552);">11pm</span>
<span class="fw hw fwr" style="left:1002.17px;top:249.46px;font-size:21.6px;transform:scaleX(0.8222);">12am</span>
<span class="fw hw fwr" style="left:1048.25px;top:249.46px;font-size:21.6px;transform:scaleX(0.8362);">1am</span>
<span class="fw hw fwr" style="left:1085.62px;top:249.46px;font-size:21.6px;transform:scaleX(0.8121);">2am</span>
<span class="fw hw fwr" style="left:1122.19px;top:249.46px;font-size:21.6px;transform:scaleX(0.8202);">3am</span>
<span class="fw hw fwr" style="left:1159.45px;top:249.46px;font-size:21.6px;transform:scaleX(0.8089);">4am</span>
<span class="fw hw fwr" style="left:1195.80px;top:249.46px;font-size:21.6px;transform:scaleX(0.8102);">5am</span>
<span class="fw hw fwr" style="left:1232.52px;top:249.46px;font-size:21.6px;transform:scaleX(0.8171);">6am</span>
<span class="fw hw fwr" style="left:1268.51px;top:249.46px;font-size:21.6px;transform:scaleX(0.8222);">7am</span>
<span class="fw hw fwr" style="left:1305.19px;top:249.46px;font-size:21.6px;transform:scaleX(0.8301);">8am</span>
<span class="fw hw fwr" style="left:1341.99px;top:249.46px;font-size:21.6px;transform:scaleX(0.8301);">9am</span>
<span class="fw hw fwr" style="left:1378.04px;top:249.46px;font-size:21.6px;transform:scaleX(0.8378);">10am</span>
<span class="fw hw fwr" style="left:1424.92px;top:249.46px;font-size:21.6px;transform:scaleX(0.8531);">11am</span>
<span class="fw hw fwr" style="left:1471.22px;top:249.46px;font-size:21.6px;transform:scaleX(0.8535);">12pm</span>
<div id="ft"><span>Created: 12 pm MST Sun 1/25/2026&nbsp; | &nbsp;Values are minimums over the period beginning at the time shown.</span></div>
<div id="bar"></div>
<span class="fw bt" style="left:341.25px;top:774.20px;font-size:34.3px;transform:scale(1.0973,1.02);">If</span>
<span class="fw bt" style="left:373.52px;top:774.20px;font-size:34.3px;transform:scale(1.0023,1.02);">going</span>
<span class="fw bt" style="left:473.09px;top:774.20px;font-size:34.3px;transform:scale(1.0313,1.02);">outside</span>
<span class="fw bt" style="left:607.57px;top:774.20px;font-size:34.3px;transform:scale(1.0299,1.02);">for</span>
<span class="fw bt" style="left:664.15px;top:774.20px;font-size:34.3px;transform:scale(1.0252,1.02);">an</span>
<span class="fw bt" style="left:713.36px;top:774.20px;font-size:34.3px;transform:scale(1.0492,1.02);">extended</span>
<span class="fw bt" style="left:878.45px;top:774.20px;font-size:34.3px;transform:scale(1.0555,1.02);">period</span>
<span class="fw bt" style="left:996.32px;top:774.20px;font-size:34.3px;transform:scale(1.0051,1.02);">of</span>
<span class="fw bt" style="left:1040.22px;top:774.20px;font-size:34.3px;transform:scale(1.1119,1.02);">time,</span>
<span class="fw bt" style="left:1136.47px;top:774.20px;font-size:34.3px;transform:scale(1.0044,1.02);">wear</span>
<span class="fw bt" style="left:1227.65px;top:774.20px;font-size:34.3px;transform:scale(1.0536,1.02);">multiple</span>
<span class="fw bt" style="left:1374.15px;top:774.20px;font-size:34.3px;transform:scale(1.0219,1.02);">layers.</span>
<div id="sf"></div>
<svg class="abs" style="left:36px;top:736px" width="70" height="58" viewBox="36 736 70 58">
<ellipse cx="69.3" cy="764.0" rx="29.6" ry="24.7" fill="#000"/>
<path d="M69.1,745.0 L89.9,776.3 L48.3,776.3 Z" fill="none" stroke="#f4f4f4" stroke-width="1.25" stroke-linejoin="round"/>
<path d="M69.2,749.3 L85.9,773.5 L52.5,773.5 Z" fill="#fff"/>
<path d="M67.5,753.2 Q69.3,751.4 71.1,753.2 L70.1,766.6 L68.5,766.6 Z" fill="#000"/>
<ellipse cx="69.3" cy="770.2" rx="1.9" ry="1.5" fill="#000"/>
</svg>
<div id="sft"><span>SAFETY</span></div>
</body></html>
